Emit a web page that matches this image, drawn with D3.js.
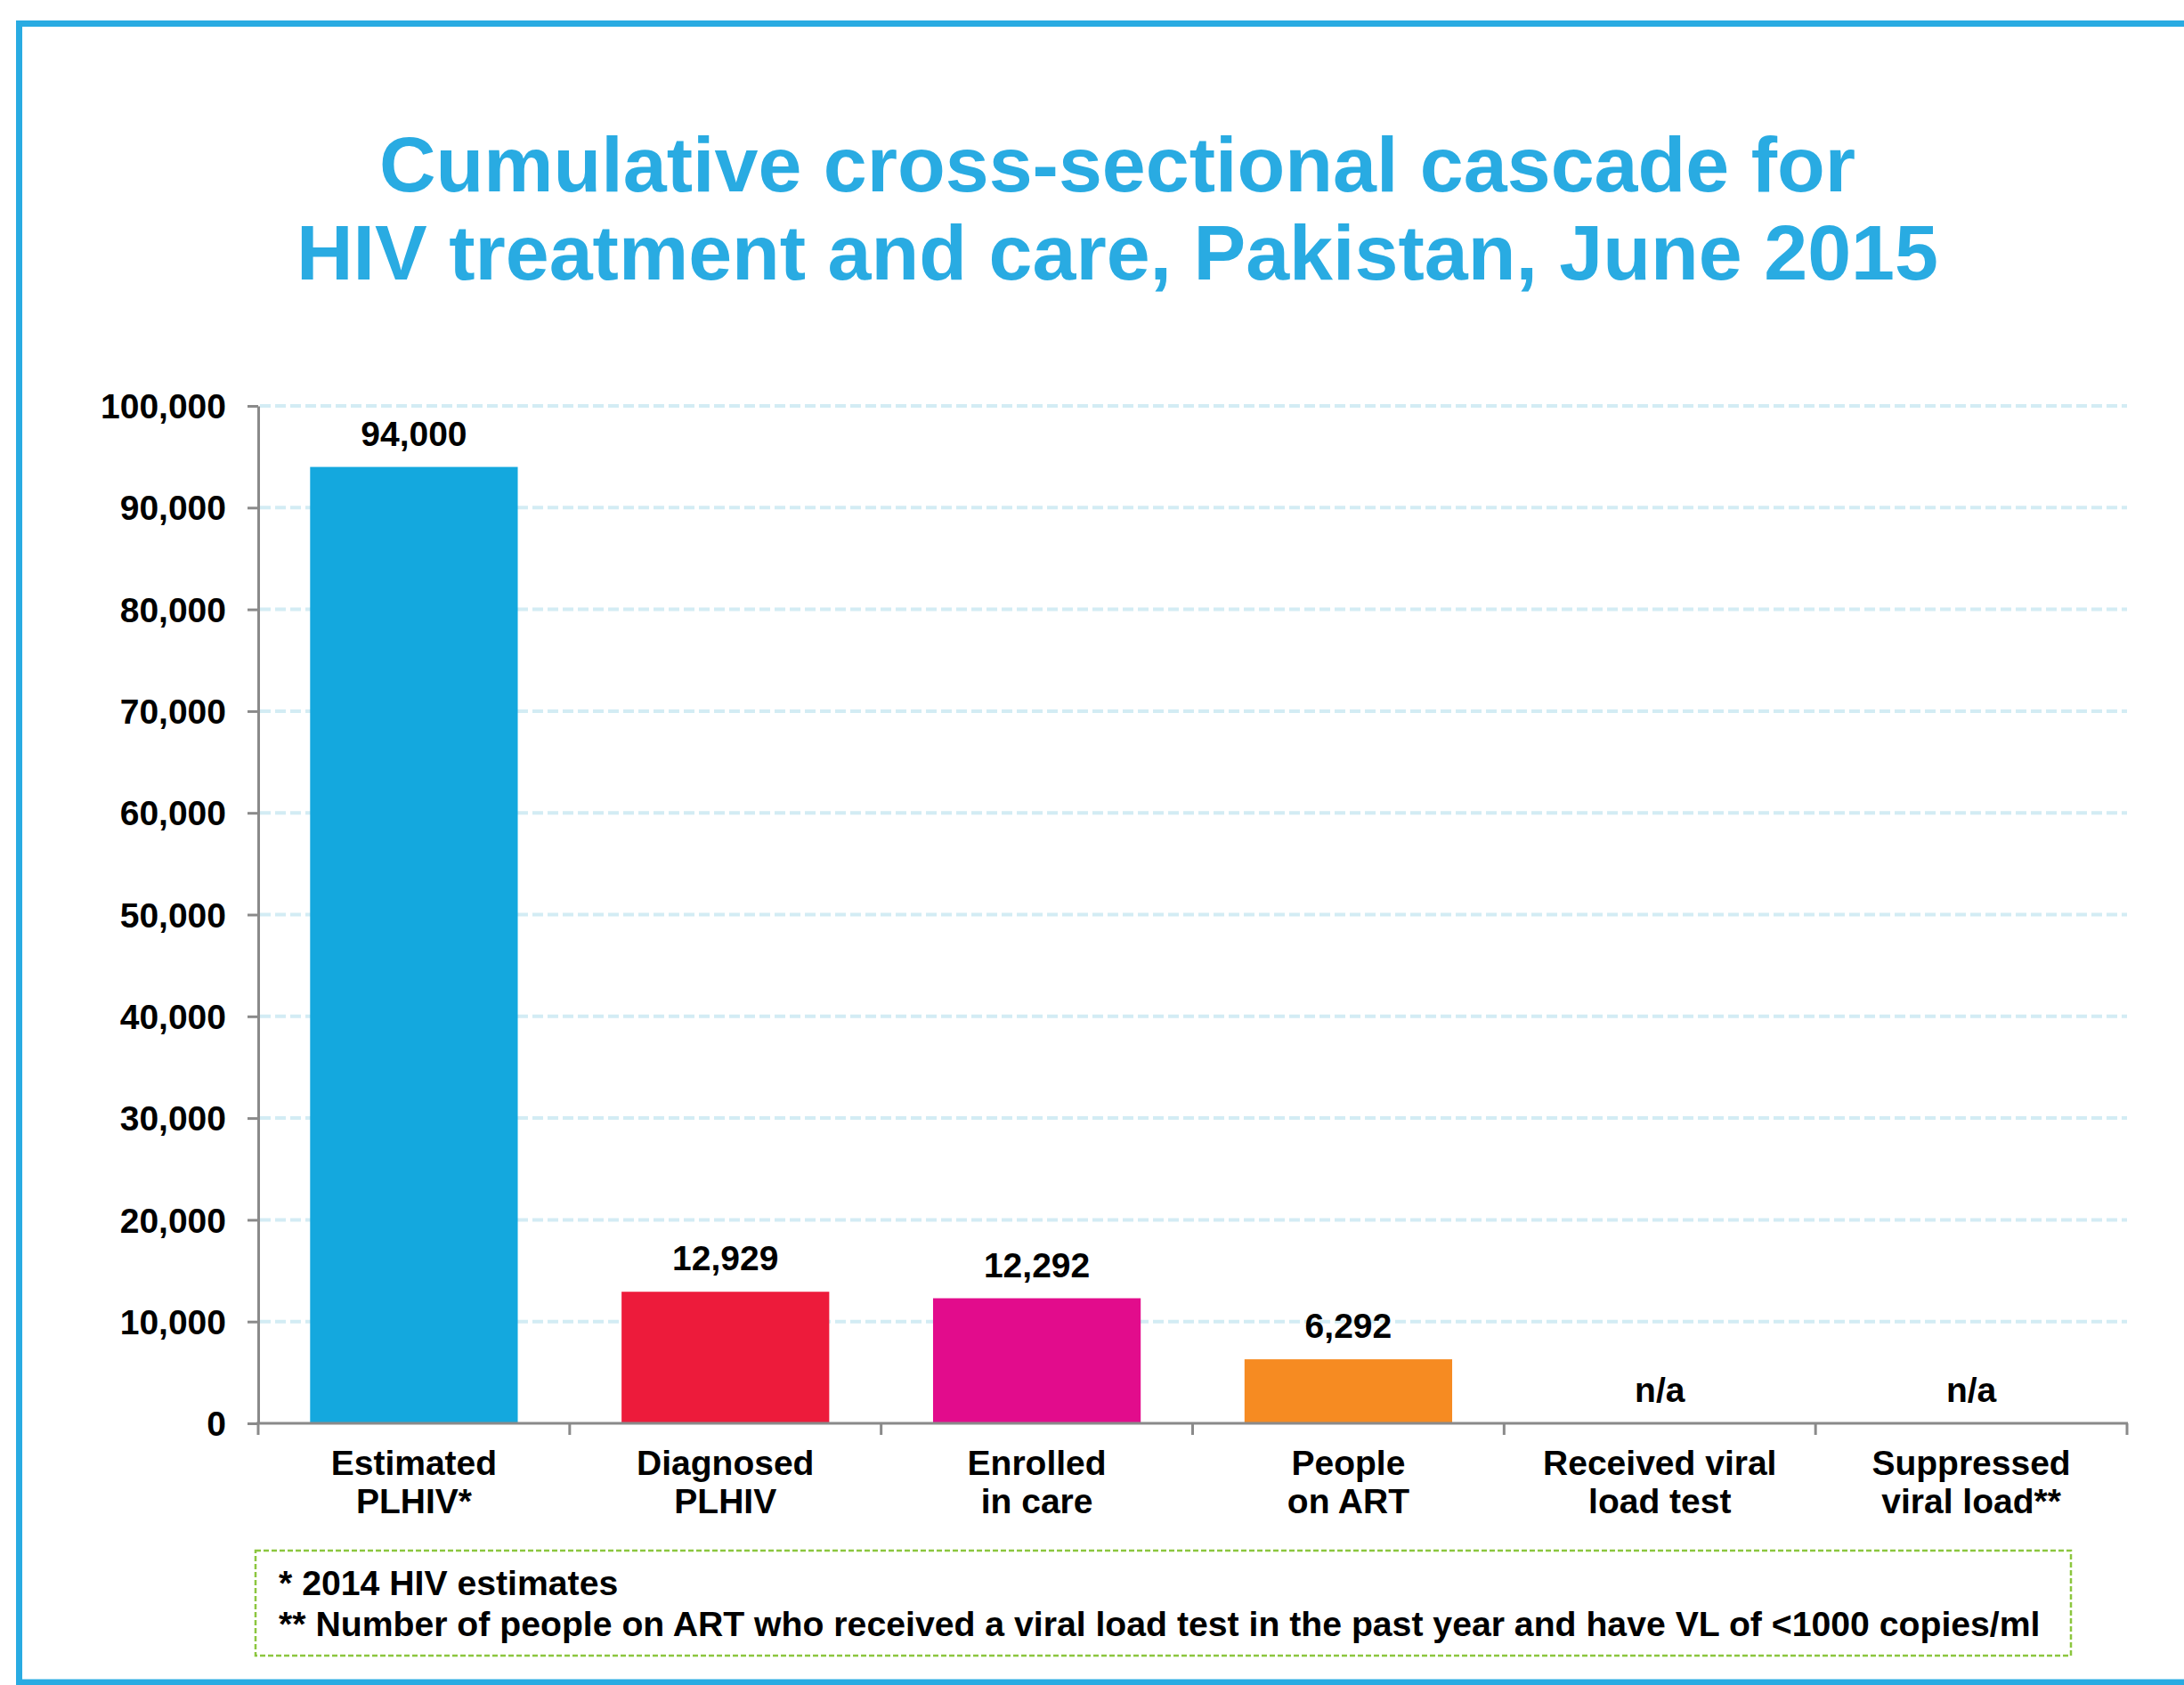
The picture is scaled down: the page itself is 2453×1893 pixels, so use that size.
<!DOCTYPE html>
<html>
<head>
<meta charset="utf-8">
<script src="https://cdn.jsdelivr.net/npm/d3@7"></script>
<style>
  body { margin: 0; background: #fff; }
  svg { display: block; font-family: "Liberation Sans", Arial, sans-serif; font-weight: bold; }
</style>
</head>
<body>
<div class="graph-content"></div>
<script>
// chart data
var categories = ["Estimated PLHIV*", "Diagnosed PLHIV", "Enrolled in care", "People on ART", "Received viral load test", "Suppressed viral load**"];
var categoryLines = [["Estimated", "PLHIV*"], ["Diagnosed", "PLHIV"], ["Enrolled", "in care"], ["People", "on ART"], ["Received viral", "load test"], ["Suppressed", "viral load**"]];
var values = [94000, 12929, 12292, 6292, null, null];
var barColors = ["#14a8de", "#ed1b3b", "#e20c8c", "#f68b22", "#999", "#999"];
var yTicks = [0, 10000, 20000, 30000, 40000, 50000, 60000, 70000, 80000, 90000, 100000];
var titleLines = ["Cumulative cross-sectional cascade for", "HIV treatment and care, Pakistan, June 2015"];
var footnotes = ["* 2014 HIV estimates", "** Number of people on ART who received a viral load test in the past year and have VL of <1000 copies/ml"];

var W = 2453, H = 1893;
var blue = "#29abe2";
var axisGrey = "#8a8a8a";

var svg = d3.select(".graph-content").append("svg")
    .attr("width", W)
    .attr("height", H);

// frame (left, top, bottom; open on the right)
svg.append("path")
    .attr("d", "M" + W + ",26.5 H21.5 V1890 H" + W)
    .attr("fill", "none")
    .attr("stroke", blue)
    .attr("stroke-width", 7);

// title
svg.append("g").selectAll("text")
    .data(titleLines)
    .enter().append("text")
    .attr("x", 1255)
    .attr("y", function(d, i) { return 215 + i * 99; })
    .attr("text-anchor", "middle")
    .attr("fill", blue)
    .style("font-size", "88px")
    .text(function(d) { return d; });

var x = d3.scaleBand().domain(categories).range([290, 2389]).padding(0);
var y = d3.scaleLinear().domain([0, 100000]).range([1599, 456]);

// gridlines
svg.append("g").selectAll("line")
    .data(yTicks.filter(function(d) { return d > 0; }))
    .enter().append("line")
    .attr("x1", 292)
    .attr("x2", 2389)
    .attr("y1", function(d) { return y(d); })
    .attr("y2", function(d) { return y(d); })
    .attr("stroke", "#d3ecf4")
    .attr("stroke-width", 4)
    .attr("stroke-dasharray", "12,5");

// y axis
var yAxis = svg.append("g")
    .attr("transform", "translate(290,0)")
    .call(d3.axisLeft(y).tickValues(yTicks).tickFormat(d3.format(",")).tickSize(12).tickSizeOuter(0).tickPadding(24));
yAxis.select(".domain").attr("stroke", axisGrey).attr("stroke-width", 3);
yAxis.selectAll(".tick line").attr("stroke", axisGrey).attr("stroke-width", 3);
yAxis.selectAll(".tick text")
    .attr("fill", "#000")
    .attr("dy", "0.35em")
    .style("font-size", "39px")
    .style("font-family", "Liberation Sans, Arial, sans-serif")
    .style("font-weight", "bold");

// bars
var barW = x.bandwidth() * 2 / 3;
svg.append("g").selectAll("rect")
    .data(categories.map(function(c, i) { return {cat: c, value: values[i], color: barColors[i]}; })
        .filter(function(d) { return d.value != null; }))
    .enter().append("rect")
    .attr("x", function(d) { return x(d.cat) + (x.bandwidth() - barW) / 2; })
    .attr("y", function(d) { return y(d.value); })
    .attr("width", barW)
    .attr("height", function(d) { return y(0) - y(d.value); })
    .attr("fill", function(d) { return d.color; });

// value labels
svg.append("g").selectAll("text")
    .data(categories)
    .enter().append("text")
    .attr("x", function(d) { return x(d) + x.bandwidth() / 2; })
    .attr("y", function(d, i) { return y(values[i] == null ? 0 : values[i]) - 24; })
    .attr("text-anchor", "middle")
    .style("font-size", "39px")
    .text(function(d, i) { return values[i] == null ? "n/a" : d3.format(",")(values[i]); });

// x axis line and boundary ticks
var xAxis = svg.append("g");
xAxis.append("line")
    .attr("x1", 288).attr("x2", 2390)
    .attr("y1", y(0)).attr("y2", y(0))
    .attr("stroke", axisGrey).attr("stroke-width", 3);
xAxis.selectAll(".xtick")
    .data(categories.map(function(c) { return x(c); }).concat([x.range()[1]]))
    .enter().append("line")
    .attr("class", "xtick")
    .attr("x1", function(d) { return d; }).attr("x2", function(d) { return d; })
    .attr("y1", y(0)).attr("y2", y(0) + 13)
    .attr("stroke", axisGrey).attr("stroke-width", 3);

// category labels
var catText = svg.append("g").selectAll("text")
    .data(categories)
    .enter().append("text")
    .attr("text-anchor", "middle")
    .style("font-size", "39px");
catText.selectAll("tspan")
    .data(function(d, i) { return categoryLines[i].map(function(t) { return {t: t, c: d}; }); })
    .enter().append("tspan")
    .attr("x", function(d) { return x(d.c) + x.bandwidth() / 2; })
    .attr("y", function(d, j) { return 1657 + j * 43; })
    .text(function(d) { return d.t; });

// footnote box
svg.append("rect")
    .attr("x", 287).attr("y", 1742)
    .attr("width", 2039).attr("height", 118)
    .attr("fill", "none")
    .attr("stroke", "#8cc63f")
    .attr("stroke-width", 2.5)
    .attr("stroke-dasharray", "6,3");

svg.append("g").selectAll("text")
    .data(footnotes)
    .enter().append("text")
    .attr("x", 313)
    .attr("y", function(d, i) { return 1792 + i * 46; })
    .style("font-size", "39.2px")
    .text(function(d) { return d; });
</script>
</body>
</html>
